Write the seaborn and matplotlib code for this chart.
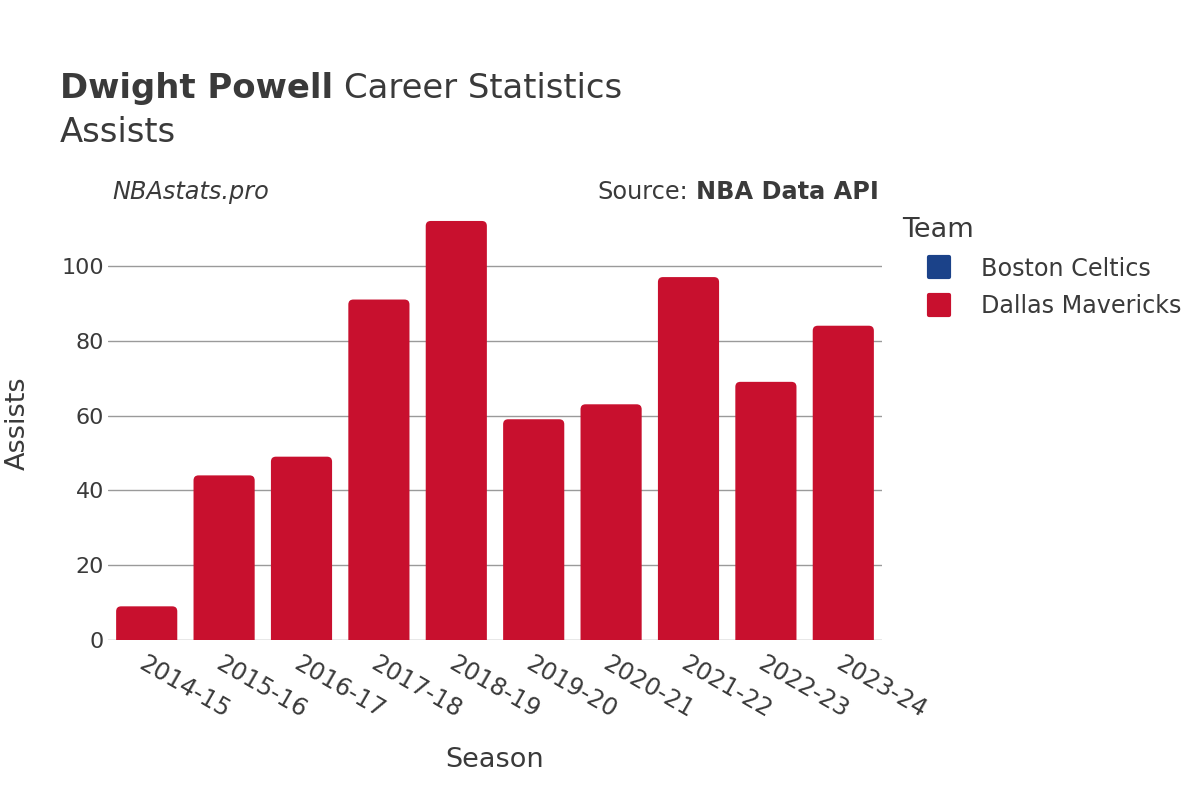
import pandas as pd
import matplotlib
matplotlib.use("Agg")
import matplotlib.pyplot as plt
import seaborn as sns
from matplotlib.patches import FancyBboxPatch
from matplotlib.lines import Line2D
from matplotlib.markers import MarkerStyle

# data
seasons = ["2014-15", "2015-16", "2016-17", "2017-18", "2018-19",
           "2019-20", "2020-21", "2021-22", "2022-23", "2023-24"]
dallas_assists = [9, 44, 49, 91, 112, 59, 63, 97, 69, 84]
boston_seasons = ["2014-15"]
boston_assists = [0]
teams = ["Boston Celtics", "Dallas Mavericks"]
team_colors = {"Boston Celtics": "#1b4289", "Dallas Mavericks": "#c8102e"}

df = pd.concat([
    pd.DataFrame({"Season": boston_seasons, "Team": "Boston Celtics", "Assists": boston_assists}),
    pd.DataFrame({"Season": seasons, "Team": "Dallas Mavericks", "Assists": dallas_assists}),
])

sns.set_theme(style="white")
plt.rcParams["font.family"] = ["DejaVu Sans"]
text_col = "#3a3a3a"

fig = plt.figure(figsize=(12, 8), dpi=100)
ax = fig.add_axes([0.09, 0.2, 0.645, 0.5425])

sns.barplot(data=df, x="Season", y="Assists", hue="Team", order=seasons,
            hue_order=teams, palette=team_colors, dodge=False, width=0.79,
            saturation=1, legend=False, ax=ax)

ax.set_ylim(0, 116)
ax.set_xlim(-0.5, len(seasons) - 0.5)

# swap the plain bars for ones with rounded tops
bbox = ax.get_position()
px_w = bbox.width * 1200
px_h = bbox.height * 800
x_per_px = (ax.get_xlim()[1] - ax.get_xlim()[0]) / px_w
y_per_px = (ax.get_ylim()[1] - ax.get_ylim()[0]) / px_h
r = 5 * x_per_px
aspect = y_per_px / x_per_px
for p in list(ax.patches):
    h = p.get_height()
    if h <= 0:
        p.remove()
        continue
    x0, w = p.get_x(), p.get_width()
    fc = p.get_facecolor()
    p.remove()
    ax.add_patch(FancyBboxPatch((x0, -8 * y_per_px), w, h + 8 * y_per_px,
                                boxstyle=f"round,pad=0,rounding_size={r}",
                                mutation_aspect=aspect, fc=fc, ec="none",
                                clip_on=True, zorder=3))

ax.set_yticks([0, 20, 40, 60, 80, 100])
ax.yaxis.grid(True, color="#9a9a9a", linewidth=1)
ax.set_axisbelow(True)
ax.axhline(0, color="#e8e8e8", linewidth=2, zorder=2)
for s in ax.spines.values():
    s.set_visible(False)

ax.tick_params(axis="y", labelsize=16, colors=text_col, pad=3, length=0)
ax.tick_params(axis="x", labelsize=17.3, colors=text_col, pad=8, length=0)
plt.setp(ax.get_xticklabels(), rotation=-30, ha="left", rotation_mode="anchor")

ax.set_xlabel("Season", fontsize=19.5, color=text_col, labelpad=18)
ax.set_ylabel("Assists", fontsize=19.5, color=text_col, labelpad=22)

# titles
fig.canvas.draw()
rend = fig.canvas.get_renderer()
t1 = fig.text(0.05, 0.889, "Dwight Powell", fontsize=24.4, fontweight="bold",
              color=text_col, va="center")
x_end = t1.get_window_extent(rend).x1 / 1200
fig.text(x_end + 0.009, 0.889, "Career Statistics", fontsize=24.4, color=text_col, va="center")
fig.text(0.05, 0.834, "Assists", fontsize=24.4, color=text_col, va="center")
fig.text(0.094, 0.76, "NBAstats.pro", fontsize=17.3, style="italic", color=text_col, va="center")
t2 = fig.text(0.732, 0.76, "NBA Data API", fontsize=17.3, fontweight="bold",
              color=text_col, va="center", ha="right")
x_start = t2.get_window_extent(rend).x0 / 1200
fig.text(x_start - 0.006, 0.76, "Source:", fontsize=17.3, color=text_col, va="center", ha="right")

# legend
handles = [Line2D([], [], marker=MarkerStyle("s", joinstyle="round"), linestyle="none",
                  markersize=15, markerfacecolor=team_colors[t],
                  markeredgecolor=team_colors[t], markeredgewidth=3)
           for t in teams]
leg = fig.legend(handles, teams, title="Team", loc="upper left",
                 bbox_to_anchor=(0.734, 0.756), frameon=False, fontsize=17.2,
                 title_fontsize=19.5, handlelength=3.1, handletextpad=0.2,
                 labelspacing=0.58)
leg.get_title().set_color(text_col)
leg._legend_box.align = "left"
for t in leg.get_texts():
    t.set_color(text_col)

fig.savefig("out.png", dpi=100)
